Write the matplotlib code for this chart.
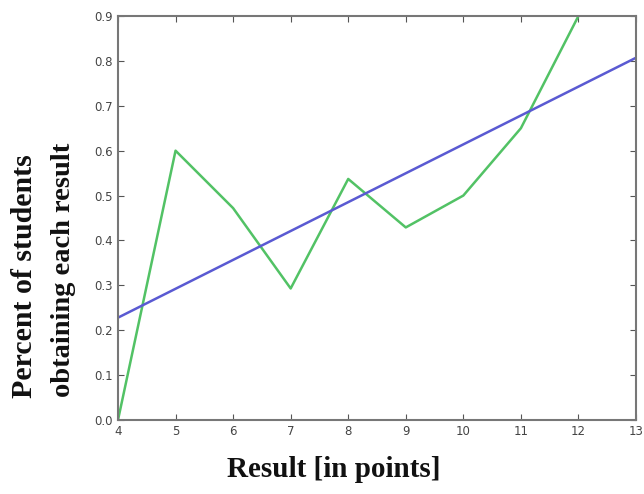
import matplotlib
matplotlib.use("Agg")
import matplotlib.pyplot as plt

result_x = [4, 5, 6, 7, 8, 9, 10, 11, 12]
percent_y = [0.0, 0.60, 0.472, 0.293, 0.537, 0.429, 0.50, 0.65, 0.90]
fit_x = [4, 13]
fit_y = [0.228, 0.807]
xticks = [4, 5, 6, 7, 8, 9, 10, 11, 12, 13]
yticks = [0.0, 0.1, 0.2, 0.3, 0.4, 0.5, 0.6, 0.7, 0.8, 0.9]

fig = plt.figure(figsize=(6.44, 4.94), dpi=100)
ax = fig.add_axes([118/644, 74/494, 518/644, 404/494])
ax.plot(result_x, percent_y, color="#52c265", lw=1.8)
ax.plot(fit_x, fit_y, color="#5a5ad2", lw=1.8)
ax.set_xlim(4, 13)
ax.set_ylim(0, 0.9)
ax.set_xticks(xticks)
ax.set_yticks(yticks)
ax.set_yticklabels([f"{v:.1f}" for v in yticks])
ax.tick_params(direction="in", top=True, right=True, length=4, width=0.8,
               colors="#555555", labelsize=8.5, labelcolor="#444444")
for s in ax.spines.values():
    s.set_color("#777777")
    s.set_linewidth(1.5)

serif = dict(family="Liberation Serif", weight="bold", color="#111111")
fig.text(25/644, 1 - 276/494, "Percent of students", rotation=90, ha="center", va="center", fontsize=21.5, **serif)
fig.text(63/644, 1 - 270/494, "obtaining each result", rotation=90, ha="center", va="center", fontsize=20.5, **serif)
fig.text(334/644, 1 - 469/494, "Result [in points]", ha="center", va="center", fontsize=21, **serif)

fig.savefig("out.png", dpi=100)
